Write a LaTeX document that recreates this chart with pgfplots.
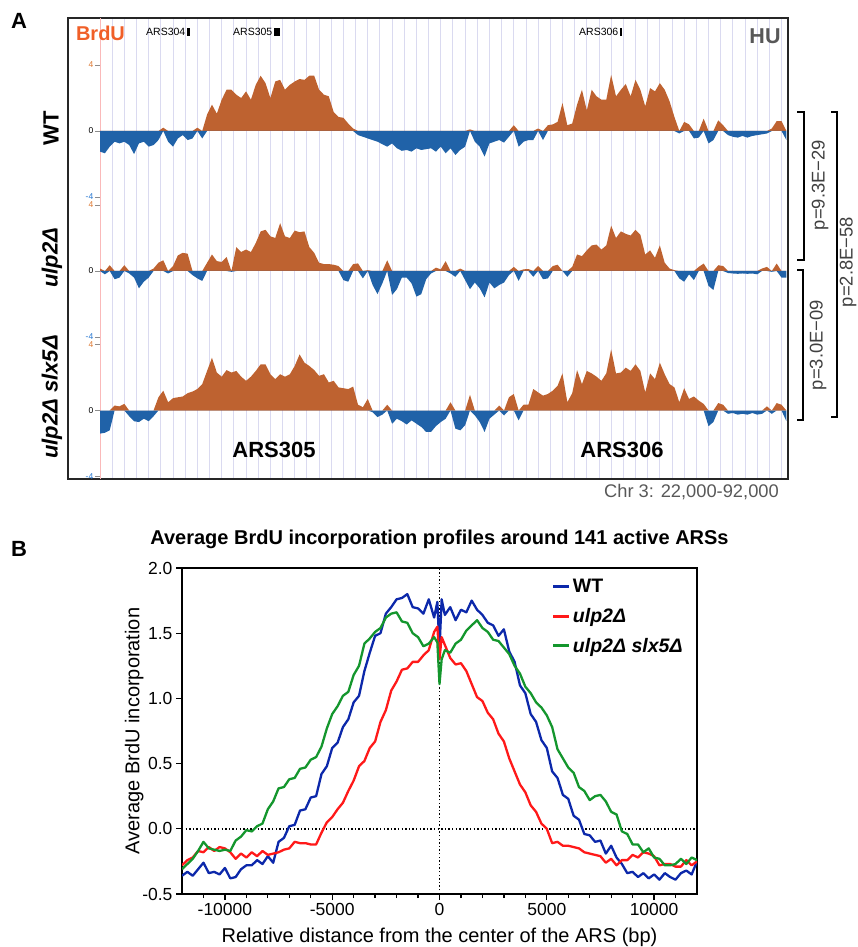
\documentclass[border=0pt]{standalone}
\usepackage{fontspec}
\setmainfont{Liberation Sans}
\usepackage{pgfplots}
\usepackage{pgfplotstable}
\pgfplotsset{compat=1.18}

\definecolor{trkorange}{RGB}{190,98,48}
\definecolor{trkblue}{RGB}{32,98,168}
\definecolor{brdured}{RGB}{240,95,40}
\definecolor{gridlav}{RGB}{218,218,240}
\definecolor{pinkline}{RGB}{250,185,185}
\definecolor{tickorange}{RGB}{220,120,50}
\definecolor{tickblue}{RGB}{40,120,210}
\definecolor{txtgray}{RGB}{88,88,88}
\definecolor{wtblue}{RGB}{12,40,170}
\definecolor{ulpred}{RGB}{255,25,25}
\definecolor{slxgreen}{RGB}{20,150,45}

% panel A: BrdU signal along chr 3 (kb), one column per strain
\pgfplotstableread{
kb wt ulp slx
22 -1.25 0.15 -1.4
22.5 -1.35 -0.2 -1.35
23 -0.95 0.35 -1.2
23.5 -0.65 -0.5 0.3
24 -0.75 -0.4 0.25
24.5 -0.65 0.35 0.4
25 -0.85 -0.15 -0.35
25.5 -1.4 -0.4 -0.65
26 -0.75 -1.05 -0.7
26.5 -0.65 -0.65 -0.5
27 -0.95 -0.4 -0.65
27.5 -0.85 0.15 -0.35
28 -0.55 0.5 0.8
28.5 0.2 0.65 1.2
29 -0.65 -0.15 0.5
29.5 -0.95 0.3 0.75
30 -0.45 0.95 0.8
30.5 -0.25 1.1 0.85
31 -0.55 1.05 1.05
31.5 -0.45 -0.25 1.15
32 0.2 -0.45 1.3
32.5 -0.45 -0.6 1.6
33 1.0 0.5 2.4
33.5 1.6 1.0 3.2
34 1.05 0.6 2.3
34.5 1.9 0.55 2.05
35 2.5 0.85 2.45
35.5 2.5 -0.05 2.3
36 2.2 1.45 2.4
36.5 2.0 1.15 2.05
37 2.4 1.3 1.8
37.5 1.9 1.15 2.05
38 2.8 1.7 2.4
38.5 3.35 2.4 2.8
39 2.9 2.5 2.8
39.5 2.0 2.1 2.2
40 3.0 2.0 1.9
40.5 3.1 2.9 2.2
41 2.5 2.1 2.05
41.5 2.8 2.0 2.2
42 3.0 2.45 2.7
42.5 3.15 2.35 3.4
43 3.1 2.4 2.9
43.5 3.35 1.45 2.7
44 3.35 1.1 2.45
44.5 2.5 0.5 2.1
45 2.2 0.42 2.2
45.5 2.1 0.42 1.7
46 1.15 0.38 1.8
46.5 0.85 0.3 1.4
47 0.8 -0.55 1.35
47.5 0.45 -0.65 1.3
48 0.15 0.42 1.45
48.5 -0.25 0.46 0.35
49 -0.35 -0.45 0.2
49.5 -0.45 0.05 0.7
50 -0.55 -0.85 -0.1
50.5 -0.65 -1.4 -0.4
51 -0.8 -0.75 -0.25
51.5 -0.95 0.65 0.35
52 -0.75 -1.45 -0.8
52.5 -1.05 -1.1 -0.5
53 -1.2 -0.4 -0.65
53.5 -1.15 -0.4 -0.85
54 -1.25 -0.75 -0.6
54.5 -1.05 -1.55 -0.8
55 -1.15 -1.4 -1.0
55.5 -1.1 -0.5 -1.3
56 -1.05 -0.15 -1.3
56.5 -1.25 0.2 -0.95
57 -0.95 0.1 -0.7
57.5 -1.35 0.6 -0.5
58 -1.05 -0.15 0.5
58.5 -1.45 -0.35 -1.1
59 -1.15 0.15 -1.2
59.5 -0.95 -0.55 -0.9
60 0.1 -1.1 0.95
60.5 -0.65 -0.7 -0.3
61 -0.95 -1.05 -0.7
61.5 -1.55 -1.6 -1.3
62 -0.75 -0.7 -0.5
62.5 -0.65 -1.05 -0.25
63 -0.55 -0.85 0.3
63.5 -0.7 -0.7 -0.3
64 -0.35 -0.25 0.8
64.5 0.35 0.25 1.0
65 -0.95 -0.6 -0.6
65.5 -0.65 0.1 0.35
66 -0.55 0.12 0.35
66.5 -0.55 -0.35 1.3
67 0.15 0.3 1.1
67.5 -0.55 -0.5 0.9
68 0.35 -0.45 1.0
68.5 0.4 0.3 1.2
69 0.55 0.38 1.5
69.5 1.7 0 2.25
70 0.35 -0.35 0.5
70.5 0.45 0.25 1.05
71 1.6 1.0 2.45
71.5 2.5 0.9 1.6
72 1.25 1.25 2.4
72.5 2.5 1.55 2.25
73 2.1 1.6 2.05
73.5 1.9 1.3 1.8
74 1.9 1.55 2.25
74.5 3.4 2.75 3.7
75 2.1 2.0 2.25
75.5 2.5 2.4 2.3
76 2.85 2.25 2.6
76.5 2.1 2.15 2.4
77 3.1 2.5 2.8
77.5 2.5 2.2 2.4
78 1.5 1.0 1.1
78.5 2.6 1.25 2.25
79 2.4 0.8 1.9
79.5 2.9 1.55 2.9
80 2.5 0.5 2.2
80.5 1.8 0.15 1.6
81 0.85 0.05 1.4
81.5 -0.15 -0.45 0.5
82 0.55 -0.65 1.35
82.5 0.4 -0.2 0.7
83 -0.45 -0.55 0.85
83.5 -0.4 0.25 0.6
84 0.75 0.45 0.4
84.5 -0.75 -0.9 -0.95
85 -0.55 -1.15 -0.7
85.5 0.65 0.35 0.45
86 0.35 0.3 0.35
86.5 -0.25 -0.12 -0.2
87 -0.35 -0.15 -0.15
87.5 -0.4 -0.17 -0.25
88 -0.3 -0.15 -0.2
88.5 -0.4 -0.17 -0.25
89 -0.3 -0.15 -0.15
89.5 -0.25 -0.2 -0.25
90 -0.2 0.15 -0.2
90.5 -0.15 0.25 0.25
91 0.15 -0.05 -0.2
91.5 0.6 0.45 0.45
92 0.6 -0.4 0.35
92.5 -0.55 -0.4 -0.65
}\tracks

% panel B: average profiles around the ARS centre (bp)
\pgfplotstableread{
x wt ulp slx
-12000 -0.36 -0.28 -0.31
-11750 -0.33 -0.24 -0.27
-11500 -0.36 -0.22 -0.23
-11250 -0.31 -0.17 -0.17
-11000 -0.26 -0.18 -0.10
-10750 -0.34 -0.14 -0.15
-10500 -0.33 -0.17 -0.16
-10250 -0.35 -0.14 -0.17
-10000 -0.30 -0.15 -0.16
-9750 -0.38 -0.18 -0.17
-9500 -0.37 -0.23 -0.09
-9250 -0.31 -0.19 -0.06
-9000 -0.28 -0.22 -0.01
-8750 -0.28 -0.18 -0.02
-8500 -0.24 -0.21 0.02
-8250 -0.27 -0.17 0.04
-8000 -0.21 -0.20 0.15
-7750 -0.26 -0.19 0.21
-7500 -0.10 -0.18 0.31
-7250 -0.07 -0.16 0.32
-7000 0.02 -0.15 0.38
-6750 0.03 -0.10 0.39
-6500 0.14 -0.11 0.46
-6250 0.15 -0.11 0.47
-6000 0.24 -0.12 0.53
-5750 0.25 -0.12 0.55
-5500 0.42 -0.03 0.63
-5250 0.48 0.05 0.77
-5000 0.62 0.09 0.88
-4750 0.66 0.15 0.94
-4500 0.78 0.20 1.02
-4250 0.84 0.29 1.05
-4000 0.97 0.37 1.18
-3750 1.02 0.48 1.25
-3500 1.21 0.52 1.42
-3250 1.35 0.62 1.46
-3000 1.48 0.67 1.51
-2750 1.50 0.82 1.54
-2500 1.65 0.91 1.62
-2250 1.70 1.06 1.65
-2000 1.76 1.13 1.66
-1750 1.77 1.22 1.59
-1500 1.80 1.23 1.58
-1250 1.70 1.28 1.50
-1000 1.69 1.28 1.47
-750 1.65 1.33 1.40
-500 1.76 1.37 1.42
-250 1.62 1.51 1.47
-100 1.74 1.55 1.43
0 1.38 1.30 1.11
100 1.76 1.47 1.30
250 1.64 1.41 1.37
500 1.70 1.31 1.35
750 1.60 1.26 1.42
1000 1.68 1.27 1.45
1250 1.66 1.21 1.52
1500 1.75 1.11 1.56
1750 1.68 1.01 1.60
2000 1.64 0.98 1.54
2250 1.58 0.89 1.51
2500 1.56 0.84 1.45
2750 1.48 0.73 1.44
3000 1.53 0.67 1.39
3250 1.36 0.54 1.34
3500 1.28 0.44 1.25
3750 1.10 0.34 1.19
4000 1.04 0.28 1.09
4250 0.88 0.18 1.04
4500 0.82 0.13 0.97
4750 0.68 0.04 0.93
5000 0.62 0.00 0.87
5250 0.44 -0.11 0.78
5500 0.39 -0.10 0.61
5750 0.26 -0.13 0.54
6000 0.23 -0.13 0.47
6250 0.10 -0.14 0.43
6500 0.07 -0.15 0.32
6750 -0.04 -0.18 0.29
7000 -0.05 -0.19 0.22
7250 -0.10 -0.20 0.25
7500 -0.09 -0.21 0.26
7750 -0.19 -0.26 0.21
8000 -0.13 -0.23 0.13
8250 -0.22 -0.28 0.11
8500 -0.27 -0.24 -0.02
8750 -0.34 -0.24 -0.04
9000 -0.33 -0.20 -0.12
9250 -0.37 -0.22 -0.12
9500 -0.34 -0.18 -0.18
9750 -0.38 -0.19 -0.15
10000 -0.35 -0.21 -0.22
10250 -0.39 -0.28 -0.23
10500 -0.34 -0.27 -0.28
10750 -0.37 -0.27 -0.28
11000 -0.39 -0.29 -0.27
11250 -0.34 -0.29 -0.23
11500 -0.32 -0.24 -0.27
11750 -0.35 -0.28 -0.22
12000 -0.25 -0.25 -0.24
}\profiles

\pgfplotsset{
  track/.style={
    anchor=north west, scale only axis,
    width=686.4pt, height=132pt,
    xmin=22, xmax=92.5, ymin=-4, ymax=4,
    axis line style={draw=none},
    xtick=\empty, ytick={-4,0,4},
    yticklabels={\textcolor{tickblue}{-4},0,\textcolor{tickorange}{4}},
    ytick pos=left, tick align=outside, major tick length=5pt,
    ytick style={black!45, line width=0.6pt},
    yticklabel style={font=\fontsize{8.5}{9}\selectfont, inner sep=1.5pt},
  },
  pos/.style={draw=none, fill=trkorange},
  neg/.style={draw=none, fill=trkblue},
}

\begin{document}
\begin{tikzpicture}
\useasboundingbox (0,0) rectangle (857pt,-947pt);

% ---------- panel A ----------
\begin{axis}[
  at={(68pt,-18pt)}, anchor=north west, scale only axis,
  width=720pt, height=461pt,
  xmin=18.713, xmax=92.665, ymin=0, ymax=1,
  xtick={23.25,24.5,...,92}, xticklabels={}, ytick=\empty,
  xmajorgrids, grid style={gridlav, line width=0.9pt},
  major tick length=0pt,
  extra x ticks={22}, extra x tick labels={},
  extra x tick style={grid style={pinkline, line width=1pt}},
  axis line style={black!85, line width=1.3pt},
]
\end{axis}

\begin{axis}[track, at={(100pt,-65pt)}]
  \addplot[pos] table[x=kb, y expr={max(\thisrow{wt},0)}] {\tracks} \closedcycle;
  \addplot[neg] table[x=kb, y expr={min(\thisrow{wt},0)}] {\tracks} \closedcycle;
\end{axis}
\begin{axis}[track, at={(100pt,-205pt)}]
  \addplot[pos] table[x=kb, y expr={max(\thisrow{ulp},0)}] {\tracks} \closedcycle;
  \addplot[neg] table[x=kb, y expr={min(\thisrow{ulp},0)}] {\tracks} \closedcycle;
\end{axis}
\begin{axis}[track, at={(100pt,-344.5pt)}]
  \addplot[pos] table[x=kb, y expr={max(\thisrow{slx},0)}] {\tracks} \closedcycle;
  \addplot[neg] table[x=kb, y expr={min(\thisrow{slx},0)}] {\tracks} \closedcycle;
\end{axis}

\node[font=\fontsize{22}{22}\selectfont\bfseries] at (19pt,-21pt) {A};
\node[font=\fontsize{20}{20}\selectfont\bfseries, text=brdured] at (100.5pt,-33pt) {BrdU};
\node[font=\fontsize{10.5}{11}\selectfont, anchor=west, inner sep=0pt] at (146pt,-32pt) {ARS304\,\rule{3pt}{7.5pt}};
\node[font=\fontsize{10.5}{11}\selectfont, anchor=west, inner sep=0pt] at (233pt,-32pt) {ARS305\,\rule{6pt}{7.5pt}};
\node[font=\fontsize{10.5}{11}\selectfont, anchor=west, inner sep=0pt] at (579pt,-32pt) {ARS306\,\rule{2pt}{7.5pt}};
\node[font=\fontsize{21.5}{22}\selectfont\bfseries, text=txtgray] at (765pt,-36pt) {HU};

\node[rotate=90, font=\fontsize{22}{22}\selectfont\bfseries] at (51pt,-128pt) {WT};
\node[rotate=90, font=\fontsize{22}{22}\selectfont\bfseries\itshape] at (52pt,-258pt) {ulp2Δ};
\node[rotate=90, font=\fontsize{22}{22}\selectfont\bfseries\itshape] at (52pt,-397pt) {ulp2Δ slx5Δ};

\node[font=\fontsize{22}{22}\selectfont\bfseries] at (274pt,-450pt) {ARS305};
\node[font=\fontsize{22}{22}\selectfont\bfseries] at (622pt,-450pt) {ARS306};
\node[font=\fontsize{18.3}{19}\selectfont, text=txtgray, anchor=east, inner sep=0pt] at (779pt,-492pt) {Chr 3: 22,000-92,000};

\draw[line width=1.6pt] (797pt,-112pt) -- (804pt,-112pt) -- (804pt,-260pt) -- (797pt,-260pt);
\draw[line width=1.6pt] (797pt,-270pt) -- (803pt,-270pt) -- (803pt,-420pt) -- (797pt,-420pt);
\draw[line width=1.6pt] (831pt,-112pt) -- (837pt,-112pt) -- (837pt,-417pt) -- (831pt,-417pt);
\node[rotate=90, font=\fontsize{18.4}{19}\selectfont, text=black!75] at (820pt,-185pt) {p=9.3E−29};
\node[rotate=90, font=\fontsize{18.4}{19}\selectfont, text=black!75] at (818pt,-345pt) {p=3.0E−09};
\node[rotate=90, font=\fontsize{18.4}{19}\selectfont, text=black!75, inner sep=1pt] at (848pt,-262pt) {p=2.8E−58};

% ---------- panel B ----------
\node[font=\fontsize{22}{22}\selectfont\bfseries] at (19pt,-549pt) {B};

\begin{axis}[
  at={(182pt,-568pt)}, anchor=north west, scale only axis,
  width=515pt, height=326pt,
  xmin=-12000, xmax=12000, ymin=-0.5, ymax=2,
  xtick={-10000,-5000,0,5000,10000},
  minor xtick={-11000,-9000,-8000,-7000,-6000,-4000,-3000,-2000,-1000,1000,2000,3000,4000,6000,7000,8000,9000,11000},
  ytick={-0.5,0,0.5,1,1.5,2},
  scaled ticks=false,
  xtick pos=bottom, ytick pos=left, tick align=outside,
  major tick length=6pt, minor tick length=4pt,
  tick style={black, line width=1.3pt},
  axis line style={black, line width=1.5pt},
  /pgf/number format/assume math mode=true,
  tick label style={font=\fontsize{17.5}{18}\selectfont},
  xticklabel style={/pgf/number format/set thousands separator={}},
  yticklabel style={/pgf/number format/fixed, /pgf/number format/fixed zerofill, /pgf/number format/precision=1},
  title={Average BrdU incorporation profiles around 141 active ARSs},
  title style={font=\fontsize{20}{20}\selectfont\bfseries, at={(axis description cs:0.5,1.0706)}, anchor=center},
  xlabel={Relative distance from the center of the ARS (bp)},
  xlabel style={font=\fontsize{20}{20}\selectfont, at={(axis description cs:0.5,-0.132)}, anchor=center},
  ylabel={Average BrdU incorporation},
  ylabel style={font=\fontsize{20}{20}\selectfont, at={(axis description cs:-0.093,0.5)}, anchor=center},
  legend style={at={(axis description cs:0.718,0.972)}, anchor=north west, draw=none, fill=none,
    inner sep=0pt, row sep=10pt, font=\fontsize{19.5}{20}\selectfont\bfseries},
  legend cell align=left,
  legend image code/.code={\draw[#1, line width=3pt] (0pt,0pt) -- (16pt,0pt);},
]
  \addplot[forget plot, black, line width=1.4pt, dash pattern=on 1.4pt off 2.2pt] coordinates {(0,-0.5) (0,2)};
  \addplot[forget plot, black, line width=1.4pt, dash pattern=on 1.4pt off 2.2pt] coordinates {(-12000,0) (12000,0)};
  \addplot[wtblue, line width=2.3pt, line join=round] table[x=x, y=wt] {\profiles};
  \addlegendentry{WT}
  \addplot[ulpred, line width=2.3pt, line join=round] table[x=x, y=ulp] {\profiles};
  \addlegendentry{\textit{ulp2Δ}}
  \addplot[slxgreen, line width=2.3pt, line join=round] table[x=x, y=slx] {\profiles};
  \addlegendentry{\textit{ulp2Δ slx5Δ}}
\end{axis}
\end{tikzpicture}
\end{document}
